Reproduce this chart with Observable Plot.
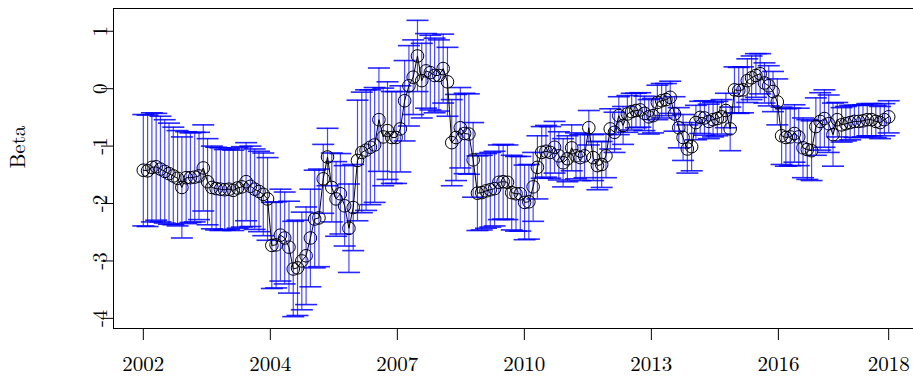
<!DOCTYPE html>
<html>
<head>
<meta charset="utf-8">
<script src="https://cdn.jsdelivr.net/npm/d3@7"></script>
<script src="https://cdn.jsdelivr.net/npm/@observablehq/plot@0.6"></script>
<style>
  html, body { margin: 0; padding: 0; background: #fff; overflow: hidden; }
  #chart svg { display: block; max-width: none; }
</style>
</head>
<body>
<div id="chart"></div>
<script>
// Estimated Beta values (one per observation, in order)
const beta = [
  -1.42, -1.43, -1.37, -1.36, -1.40, -1.44, -1.48, -1.52, -1.56, -1.72,
  -1.55, -1.55, -1.54, -1.52, -1.38, -1.62, -1.72, -1.74, -1.75, -1.76,
  -1.75, -1.77, -1.73, -1.71, -1.62, -1.70, -1.75, -1.79, -1.84, -1.92,
  -2.73, -2.72, -2.55, -2.60, -2.76, -3.14, -3.12, -3.00, -2.91, -2.60,
  -2.27, -2.25, -1.57, -1.19, -1.72, -1.92, -1.83, -2.04, -2.43, -2.07,
  -1.25, -1.11, -1.07, -1.02, -0.98, -0.54, -0.84, -0.73, -0.85, -0.85,
  -0.70,
  -0.21, 0.05, 0.20, 0.57, 0.14, 0.31, 0.28, 0.23, 0.23, 0.35,
  0.12, -0.94, -0.85, -0.68, -0.78, -0.79, -1.24, -1.82, -1.81, -1.78,
  -1.76, -1.74, -1.63, -1.62, -1.63, -1.81, -1.83, -1.83, -1.98, -1.97,
  -1.71, -1.37, -1.11, -1.09, -1.11, -1.02,
  -1.17, -1.29, -1.22, -1.03, -1.17, -1.20, -1.17, -0.68, -1.20, -1.34,
  -1.32, -1.17, -0.70, -0.76, -0.47, -0.64, -0.44, -0.40, -0.38, -0.37,
  -0.43, -0.49, -0.47, -0.24, -0.21, -0.19, -0.15, -0.44, -0.68, -0.85,
  -1.05, -1.01, -0.59, -0.50,
  -0.51, -0.57, -0.54, -0.52, -0.49, -0.38, -0.70, -0.02, -0.03, -0.02,
  0.14, 0.19, 0.23, 0.26, 0.10, 0.05, -0.05, -0.23, -0.82, -0.85,
  -0.84, -0.78, -0.84, -1.03, -1.06, -1.08, -0.66, -0.57, -0.52, -0.61,
  -0.80, -0.54, -0.63, -0.61, -0.59, -0.57, -0.57, -0.56, -0.54, -0.54,
  -0.57, -0.59, -0.54, -0.49
];

// Estimated half-widths of the error bars
const err = [
  0.97, 0.97, 0.95, 0.93, 0.92, 0.90, 0.88, 0.85, 0.83, 0.88,
  0.80, 0.78, 0.78, 0.76, 0.75, 0.75, 0.72, 0.72, 0.72, 0.70,
  0.70, 0.70, 0.70, 0.70, 0.68, 0.70, 0.70, 0.70, 0.72, 0.72,
  0.75, 0.75, 0.80, 0.80, 0.80, 0.83, 0.83, 0.85, 0.85, 0.85,
  0.85, 0.85, 0.60, 0.50, 0.60, 0.65, 0.70, 0.70, 0.77, 0.75,
  1.05, 1.05, 1.05, 1.00, 1.00, 0.90, 0.85, 0.85, 0.80, 0.80,
  0.75,
  0.70, 0.70, 0.65, 0.62, 0.65, 0.65, 0.65, 0.65, 0.62, 0.60,
  0.60, 0.75, 0.75, 0.70, 0.70, 0.70, 0.65, 0.65, 0.65, 0.65,
  0.65, 0.65, 0.65, 0.65, 0.65, 0.65, 0.65, 0.65, 0.65, 0.65,
  0.60, 0.55, 0.45, 0.45, 0.45, 0.45,
  0.42, 0.42, 0.40, 0.40, 0.40, 0.40, 0.38, 0.30, 0.40, 0.42,
  0.40, 0.38, 0.35, 0.35, 0.33, 0.33, 0.32, 0.32, 0.30, 0.30,
  0.30, 0.30, 0.30, 0.30, 0.30, 0.28, 0.28, 0.30, 0.35, 0.40,
  0.42, 0.42, 0.30, 0.28,
  0.30, 0.30, 0.30, 0.30, 0.30, 0.30, 0.38, 0.40, 0.40, 0.40,
  0.38, 0.38, 0.38, 0.35, 0.35, 0.35, 0.35, 0.40, 0.50, 0.50,
  0.50, 0.50, 0.50, 0.52, 0.52, 0.52, 0.50, 0.50, 0.50, 0.50,
  0.55, 0.30, 0.30, 0.30, 0.30, 0.28, 0.28, 0.28, 0.28, 0.28,
  0.28, 0.28, 0.28, 0.28
];

// X axis: tick positions (observation index) and their labels
const xTickPos = [0, 29.65, 59.3, 88.95, 118.6, 148.25, 174];
const xTickLabels = ["2002", "2004", "2007", "2010", "2013", "2016", "2018"];

// Y axis ticks
const yTicks = [-4, -3, -2, -1, 0, 1];
const yTickLabels = ["-4", "-3", "-2", "-1", "0", "1"];

const n = beta.length;
const data = beta.map((b, i) => ({ i, b, lo: b - err[i], hi: b + err[i] }));

// R-style 4% axis extension
const yMin = d3.min(data, d => d.lo), yMax = d3.max(data, d => d.hi);
const yPad = 0.04 * (yMax - yMin);
const yDomain = [yMin - yPad, yMax + yPad];
const xPad = 0.04 * (n - 1);
const xDomain = [-xPad, (n - 1) + xPad];

const labelByTick = new Map(xTickPos.map((p, k) => [p, xTickLabels[k]]));
const yLabelByTick = new Map(yTicks.map((p, k) => [p, yTickLabels[k]]));

const capSymbol = {
  draw(ctx, size) {
    const w = Math.sqrt(size / Math.PI);
    ctx.moveTo(-w, 0);
    ctx.lineTo(w, 0);
  }
};

const blue = "#0000ff";
const font = "'Latin Modern Roman', 'CMU Serif', 'Liberation Serif', 'DejaVu Serif', serif";

const chart = Plot.plot({
  width: 913,
  height: 385,
  marginLeft: 113,
  marginRight: -5,
  marginTop: 8,
  marginBottom: 57,
  style: { fontFamily: font, fontSize: "21px", background: "#fff", color: "#000", overflow: "hidden" },
  x: {
    domain: xDomain,
    ticks: xTickPos,
    tickFormat: d => labelByTick.get(d) ?? "",
    tickSize: 12,
    tickPadding: 16,
    label: null
  },
  y: {
    domain: yDomain,
    ticks: yTicks,
    tickFormat: () => "",
    tickSize: 12,
    tickPadding: 0,
    label: null
  },
  marks: [
    // error bar shafts
    Plot.ruleX(data, { x: "i", y1: "lo", y2: "hi", stroke: blue, strokeWidth: 1.2, strokeOpacity: 0.72 }),
    // error bar caps
    Plot.dot(data, { x: "i", y: "hi", symbol: capSymbol, r: 11, fill: "none", stroke: blue, strokeWidth: 1.6, strokeOpacity: 0.85 }),
    Plot.dot(data, { x: "i", y: "lo", symbol: capSymbol, r: 11, fill: "none", stroke: blue, strokeWidth: 1.6, strokeOpacity: 0.85 }),
    // series line and points
    Plot.line(data, { x: "i", y: "b", stroke: "#000", strokeWidth: 1 }),
    Plot.dot(data, { x: "i", y: "b", r: 6.3, fill: "none", stroke: "#000", strokeWidth: 1 }),
    // box (left, top, bottom)
    Plot.ruleX([xDomain[0]], { x: d => d, stroke: "#000", strokeWidth: 1 }),
    Plot.ruleY([yDomain[0], yDomain[1]], { y: d => d, stroke: "#000", strokeWidth: 1 }),
    // rotated y tick labels
    Plot.text(yTicks, {
      x: () => xDomain[0], y: d => d, text: d => yLabelByTick.get(d),
      rotate: -90, dx: -13, lineAnchor: "middle", textAnchor: "middle", fill: "#000"
    }),
    // y axis title
    Plot.text(["Beta"], { frameAnchor: "left", dx: -95, rotate: -90, text: d => d, lineAnchor: "middle", fill: "#000" })
  ]
});

document.getElementById("chart").appendChild(chart);
</script>
</body>
</html>
